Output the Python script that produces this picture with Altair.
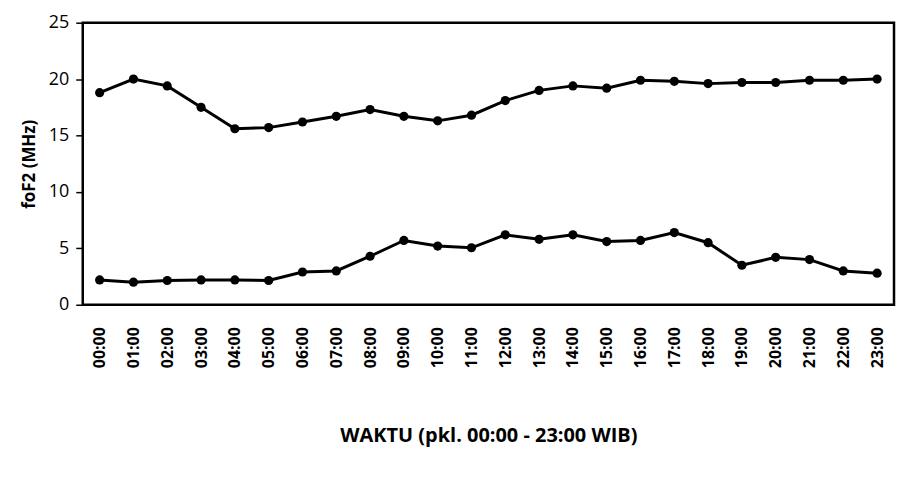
import altair as alt
import pandas as pd

hours = ["00:00", "01:00", "02:00", "03:00", "04:00", "05:00", "06:00", "07:00",
         "08:00", "09:00", "10:00", "11:00", "12:00", "13:00", "14:00", "15:00",
         "16:00", "17:00", "18:00", "19:00", "20:00", "21:00", "22:00", "23:00"]
upper = [18.8, 20.0, 19.4, 17.5, 15.6, 15.7, 16.2, 16.7, 17.3, 16.7, 16.3, 16.8,
         18.1, 19.0, 19.4, 19.2, 19.9, 19.8, 19.6, 19.7, 19.7, 19.9, 19.9, 20.0]
lower = [2.2, 2.0, 2.15, 2.2, 2.2, 2.15, 2.9, 3.0, 4.3, 5.7, 5.2, 5.05,
         6.2, 5.8, 6.2, 5.6, 5.7, 6.4, 5.5, 3.5, 4.2, 4.0, 3.0, 2.8]

rows = []
for h, u, l in zip(hours, upper, lower):
    rows.append({"waktu": h, "foF2": u, "seri": "maks"})
    rows.append({"waktu": h, "foF2": l, "seri": "min"})
df = pd.DataFrame(rows)

x = alt.X("waktu:N", sort=hours, scale=alt.Scale(paddingInner=0, paddingOuter=0),
          axis=alt.Axis(title="WAKTU (pkl. 00:00 - 23:00 WIB)", labelAngle=270,
                        labelFontSize=16, labelFontWeight="bold", labelColor="black",
                        labelPadding=22, ticks=False, domain=False,
                        titleFontSize=20, titleFontWeight="bold", titlePadding=58,
                        titleColor="black"))
y = alt.Y("foF2:Q", scale=alt.Scale(domain=[0, 25], nice=False),
          axis=alt.Axis(title="foF2 (MHz)", values=[0, 5, 10, 15, 20, 25],
                        labelFontSize=18, labelColor="black", labelPadding=7,
                        tickSize=7, tickColor="black", tickWidth=1.5,
                        domain=False, grid=False,
                        titleFontSize=17, titleFontWeight="bold", titlePadding=10,
                        titleColor="black"))

base = alt.Chart(df)
lines = base.mark_line(color="black", strokeWidth=3).encode(x=x, y=y, detail="seri:N")
pts = base.mark_circle(color="black", size=85, opacity=1).encode(x=x, y=y, detail="seri:N")

chart = (lines + pts).properties(width=814, height=283, padding={"top": 5, "left": 12, "right": 2, "bottom": 5}).configure(
    font="Open Sans"
).configure_view(stroke="black", strokeWidth=2.5)

chart.save("out.html", embed_options={"renderer": "svg", "actions": False})
